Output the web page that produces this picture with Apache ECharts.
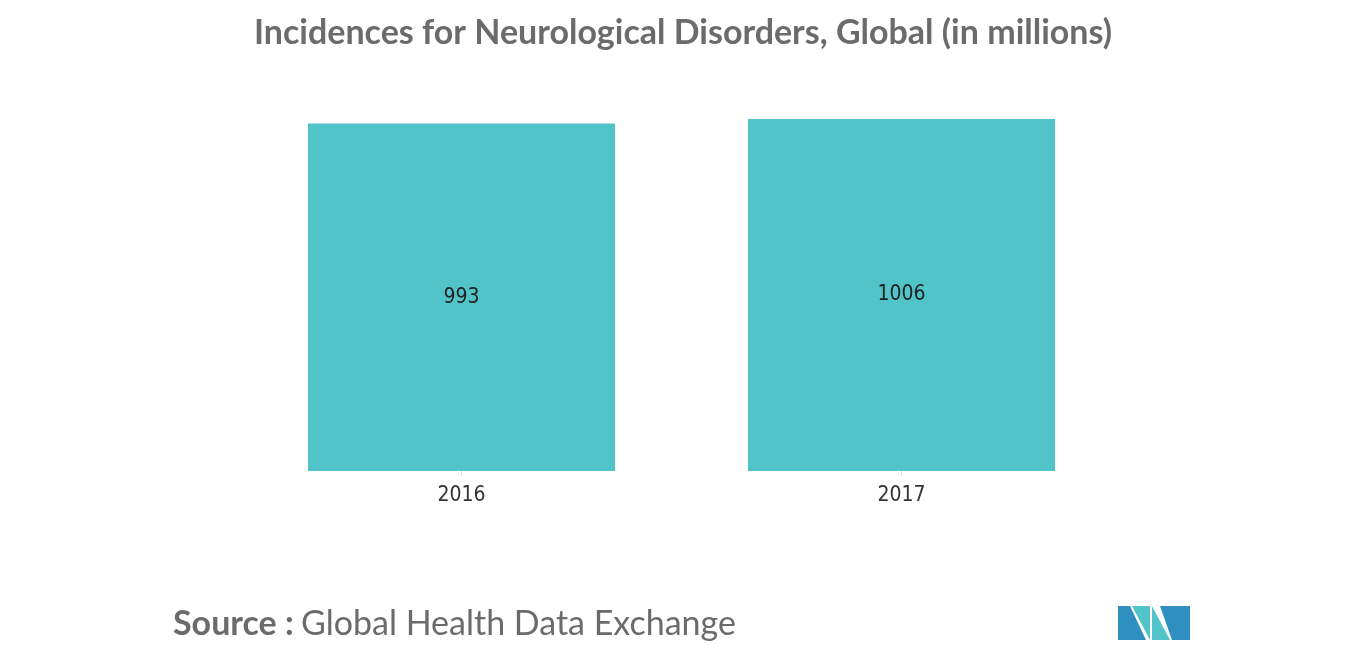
<!DOCTYPE html>
<html><head><meta charset="utf-8">
<script src="https://cdn.jsdelivr.net/npm/echarts@6/dist/echarts.min.js"></script>
<style>html,body{margin:0;padding:0;background:#fff}#c{width:1366px;height:655px}</style>
</head><body><div id="c"></div>
<script>
const categories = ['2016', '2017'];
const values = [993, 1006];
const chart = echarts.init(document.getElementById('c'));
chart.setOption({
  animation: false,
  title: {
    text: 'Incidences for Neurological Disorders, Global (in millions)',
    left: 'center', top: 11,
    textStyle: { fontFamily: 'Lato', fontWeight: 'bold', fontSize: 34, color: '#6b6b6b' }
  },
  grid: { left: 241.5, right: 244.5, top: 119, bottom: 184 },
  xAxis: {
    type: 'category', data: categories,
    axisLine: { show: false },
    axisTick: { show: true, alignWithLabel: true, length: 5, lineStyle: { color: '#d9d9d9' } },
    axisLabel: { fontFamily: 'DejaVu Sans Condensed', fontSize: 21, color: '#333', margin: 14 }
  },
  yAxis: { type: 'value', min: 0, max: 1006, show: false, splitLine: { show: false } },
  series: [{
    type: 'bar', data: values, barWidth: 307,
    itemStyle: { color: '#50c4c9' },
    label: { show: true, position: 'inside', fontFamily: 'DejaVu Sans Condensed', fontSize: 21, color: '#222' }
  }],
  graphic: [
    { type: 'text', left: 173, top: 607, style: { text: 'Source :', fontFamily: 'Lato', fontWeight: 'bold', fontSize: 34, fill: '#6b6b6b' } },
    { type: 'text', left: 301, top: 607, style: { text: 'Global Health Data Exchange', fontFamily: 'Lato', fontSize: 34, fill: '#6b6b6b' } },
    { type: 'polygon', shape: { points: [[1118,640],[1118,606],[1130,606],[1146,640]] }, style: { fill: '#2e8fc0' } },
    { type: 'polygon', shape: { points: [[1132,606],[1150,606],[1150,640]] }, style: { fill: '#50c4c9' } },
    { type: 'polygon', shape: { points: [[1152,640],[1152,606],[1170,640]] }, style: { fill: '#50c4c9' } },
    { type: 'polygon', shape: { points: [[1172,640],[1160,606],[1190,606],[1190,640]] }, style: { fill: '#2e8fc0' } }
  ]
});
</script></body></html>
